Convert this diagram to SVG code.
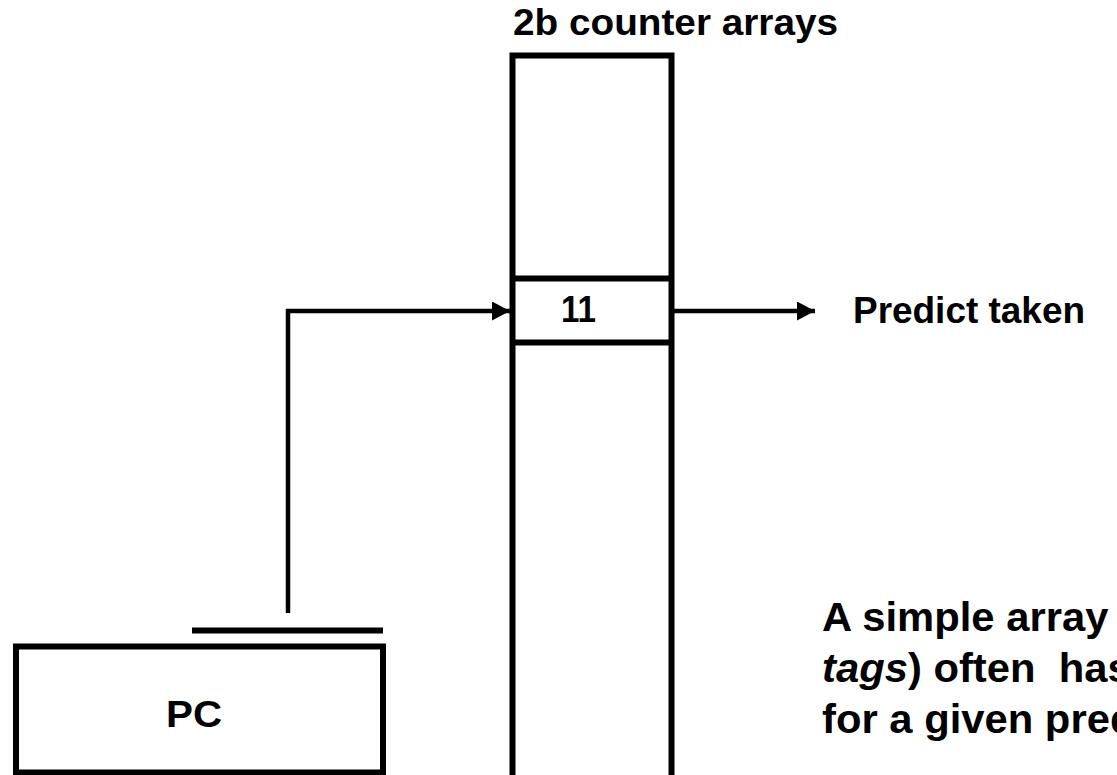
<svg xmlns="http://www.w3.org/2000/svg" width="1117" height="775" viewBox="0 0 1117 775">
  <style>
    .box { fill: #ffffff; stroke: #000000; stroke-width: 6; }
    .bar { fill: none; stroke: #000000; stroke-width: 6; }
    .wire { fill: none; stroke: #000000; stroke-width: 4.5; }
    .lbl { font-family: "Liberation Sans", Arial, sans-serif; font-weight: bold; font-size: 36px; fill: #000000; white-space: pre; }
    .note { font-size: 40px; }
  </style>
  <defs>
    <marker id="arrow" markerUnits="userSpaceOnUse" markerWidth="19" markerHeight="20" refX="18" refY="9.5" orient="auto">
      <path d="M0,0 L18,9.5 L0,19 Z" fill="#000000"/>
    </marker>
  </defs>

  <rect width="1117" height="775" fill="#ffffff"/>

  <!-- counter table -->
  <g id="counter-array">
    <text class="lbl" x="513" y="35" textLength="325" lengthAdjust="spacingAndGlyphs">2b counter arrays</text>
    <rect class="box" x="512.5" y="55.5" width="159" height="740"/>
    <line class="bar" x1="512.5" y1="278.5" x2="671.5" y2="278.5"/>
    <line class="bar" x1="512.5" y1="342.5" x2="671.5" y2="342.5"/>
    <text class="lbl" x="561" y="322" textLength="35" lengthAdjust="spacingAndGlyphs">11</text>
  </g>

  <!-- program counter -->
  <g id="pc">
    <rect class="box" x="16" y="646.5" width="367" height="126"/>
    <line class="bar" x1="192" y1="630.5" x2="383" y2="630.5"/>
    <text class="lbl" x="166" y="727" textLength="56" lengthAdjust="spacingAndGlyphs">PC</text>
  </g>

  <!-- prediction output -->
  <g id="predict">
    <text class="lbl" x="853" y="323" textLength="232" lengthAdjust="spacingAndGlyphs">Predict taken</text>
  </g>

  <!-- note, runs off the right edge -->
  <g id="note" transform="translate(822,0) scale(1.045,1) translate(-822,0)">
    <text class="lbl note" x="822" y="631">A simple array</text>
    <text class="lbl note" x="822" y="682"><tspan font-style="italic">tags</tspan>) often  has</text>
    <text class="lbl note" x="822" y="733">for a given pred</text>
  </g>

  <!-- connectors -->
  <g id="connectors">
    <polyline class="wire" points="288,613 288,311 510,311" marker-end="url(#arrow)"/>
    <line class="wire" x1="674" y1="311" x2="815" y2="311" marker-end="url(#arrow)"/>
  </g>
</svg>
